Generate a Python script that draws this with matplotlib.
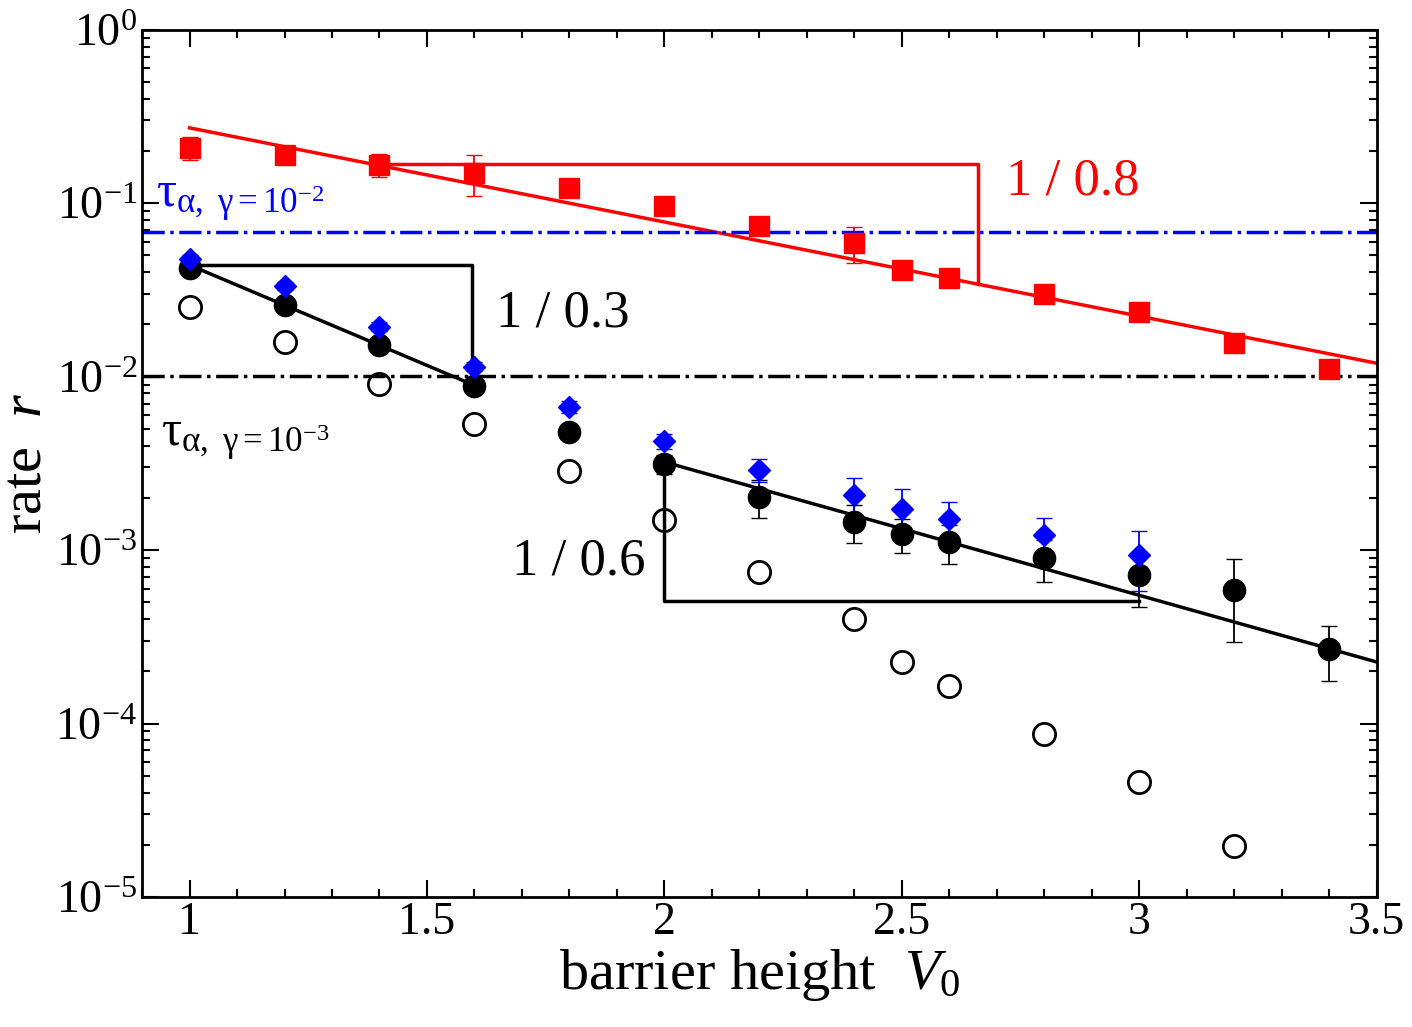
import numpy as np
import matplotlib.pyplot as plt

plt.rcParams['font.family'] = ['Liberation Serif', 'DejaVu Serif']
plt.rcParams['mathtext.fontset'] = 'custom'
plt.rcParams['mathtext.rm'] = 'Liberation Serif'
plt.rcParams['mathtext.it'] = 'Liberation Serif:italic'

v_red = [1.0, 1.2, 1.4, 1.6, 1.8, 2.0, 2.2, 2.4, 2.5, 2.6, 2.8, 3.0, 3.2, 3.4]
r_red = [0.209, 0.19, 0.167, 0.15, 0.123, 0.097, 0.074, 0.059, 0.041, 0.037, 0.030, 0.0237, 0.0157, 0.011]
e_red = [0.15, 0.1, 0.15, 0.27, 0.08, 0.1, 0.1, 0.23, 0.08, 0.08, 0.08, 0.08, 0.1, 0.08]

v_blk = [1.0, 1.2, 1.4, 1.6, 1.8, 2.0, 2.2, 2.4, 2.5, 2.6, 2.8, 3.0, 3.2, 3.4]
r_blk = [0.0424, 0.026, 0.0153, 0.00885, 0.0048, 0.00314, 0.00203, 0.00146, 0.00124, 0.00111, 0.0009, 0.00072, 0.00059, 0.00027]
e_blk = [0.05, 0.05, 0.06, 0.06, 0.08, 0.12, 0.25, 0.25, 0.22, 0.25, 0.27, 0.35, 0.5, 0.35]

v_open = [1.0, 1.2, 1.4, 1.6, 1.8, 2.0, 2.2, 2.4, 2.5, 2.6, 2.8, 3.0, 3.2]
r_open = [0.0253, 0.0159, 0.0091, 0.00535, 0.00286, 0.00149, 0.00075, 0.0004, 0.000227, 0.000165, 8.7e-5, 4.6e-5, 1.97e-5]

v_blue = [1.0, 1.2, 1.4, 1.6, 1.8, 2.0, 2.2, 2.4, 2.5, 2.6, 2.8, 3.0]
r_blue = [0.0478, 0.0334, 0.0194, 0.0114, 0.0067, 0.00427, 0.0029, 0.00209, 0.00173, 0.00151, 0.00122, 0.00094]
e_blue = [0.05, 0.05, 0.06, 0.06, 0.08, 0.1, 0.15, 0.25, 0.3, 0.25, 0.25, 0.38]

tau_2 = 0.0684
tau_3 = 0.0101

fig = plt.figure(figsize=(14.12, 10.27), dpi=100)
ax = fig.add_axes([0.1006, 0.1266, 0.8744, 0.8444])

def err(r, e):
    r = np.array(r); e = np.array(e)
    return [r * e, r * e]

ax.errorbar(v_red, r_red, yerr=err(r_red, e_red), fmt='s', color='red', ms=14, capsize=6, elinewidth=1.3)
ax.errorbar(v_blk, r_blk, yerr=err(r_blk, e_blk), fmt='o', color='black', ms=16, capsize=6, elinewidth=1.3)
ax.plot(v_open, r_open, 'o', mfc='none', mec='black', ms=16, mew=2)
ax.errorbar(v_blue, r_blue, yerr=err(r_blue, e_blue), fmt='D', color='blue', ms=11, capsize=6, elinewidth=1.3)

# fit lines
vx = np.array([1.0, 3.5])
ax.plot(vx, 0.272 * np.exp(-(vx - 1.0) / 0.8), color='red', lw=2.5)
ax.plot([1.0, 1.6], [0.044, 0.0089], color='black', lw=2.5)
vx2 = np.array([2.0, 3.5])
ax.plot(vx2, 0.00322 * np.exp(-(vx2 - 2.0) / 0.565), color='black', lw=2.5)

# slope triangles
ax.plot([1.4, 2.66, 2.66], [0.169, 0.169, 0.272 * np.exp(-1.66 / 0.8)], color='red', lw=2.5)
ax.plot([1.0, 1.595, 1.595], [0.044, 0.044, 0.0094], color='black', lw=2.5)
ax.plot([2.0, 2.0, 3.0], [0.00322, 0.000509, 0.000509], color='black', lw=2.5)

ax.axhline(tau_2, color='blue', ls='-.', lw=2.5)
ax.axhline(tau_3, color='black', ls='-.', lw=2.5)

ax.text(2.72, 0.112, '1 / 0.8', color='red', fontsize=38)
ax.text(1.645, 0.0195, '1 / 0.3', color='black', fontsize=38)
ax.text(1.68, 0.00072, '1 / 0.6', color='black', fontsize=38)
ax.text(0.93, 0.095, r'$\mathrm{\tau}_{\mathrm{\alpha,\ \gamma=10^{-2}}}$', color='blue', fontsize=36)
ax.text(0.94, 0.0040, r'$\mathrm{\tau}_{\mathrm{\alpha,\ \gamma=10^{-3}}}$', color='black', fontsize=36)

ax.set_yscale('log')
ax.set_xlim(0.9, 3.5)
ax.set_ylim(1e-5, 1)
ax.set_xticks([1, 1.5, 2, 2.5, 3, 3.5])
ax.set_xticklabels(['1', '1.5', '2', '2.5', '3', '3.5'])
ax.set_xticks(np.arange(0.9, 3.5, 0.1), minor=True)
ax.tick_params(which='both', direction='in', top=True, right=True, labelsize=33, width=1.5)
ax.tick_params(which='major', length=12)
ax.tick_params(which='minor', length=6)
for s in ax.spines.values():
    s.set_linewidth(2)

ax.set_xlabel(r'barrier height  $V_0$', fontsize=42, labelpad=2)
ax.set_ylabel(r'rate  $r$', fontsize=42, labelpad=2)

fig.savefig('out.png', dpi=100)
